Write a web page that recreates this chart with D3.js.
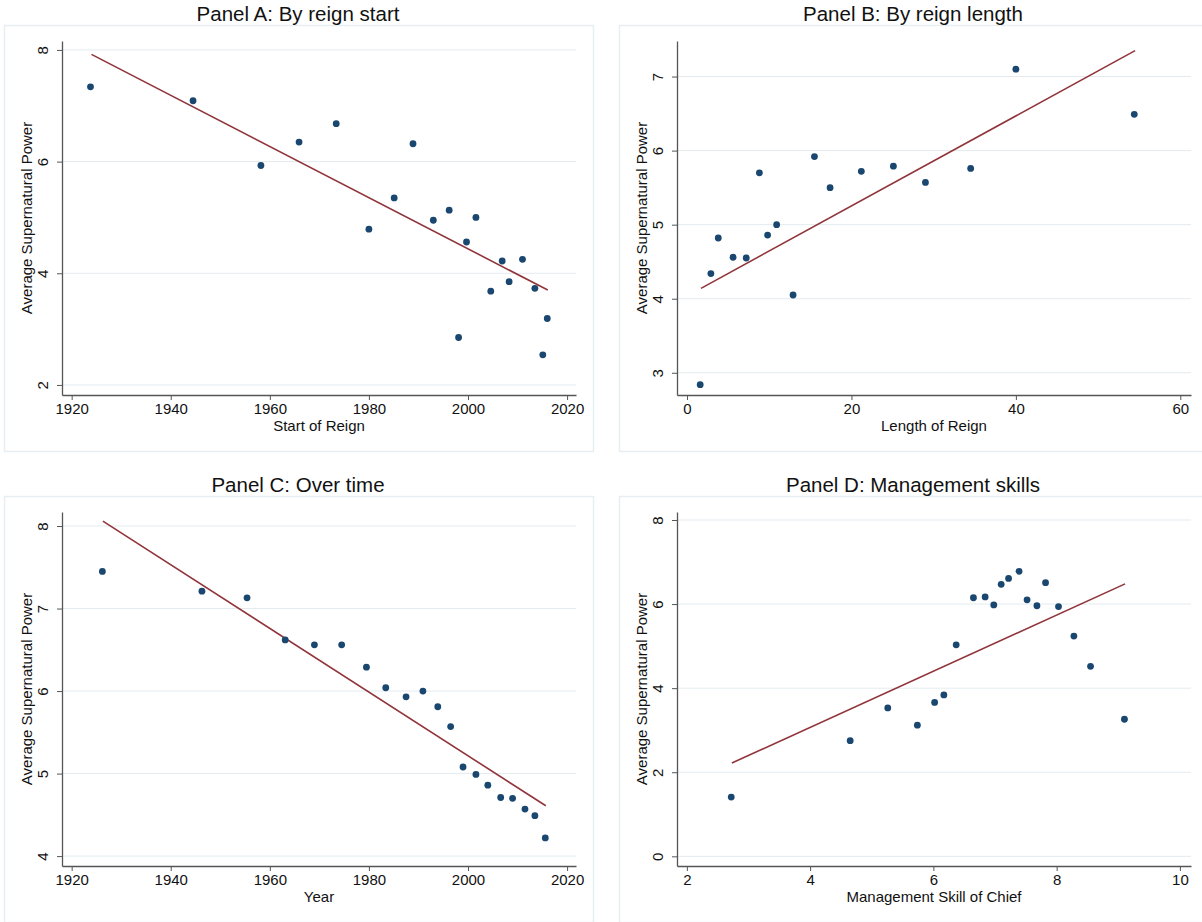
<!DOCTYPE html>
<html>
<head>
<meta charset="utf-8">
<script src="https://cdn.jsdelivr.net/npm/d3@7"></script>
<style>
  body { margin: 0; background: #fff; }
  svg { display: block; font-family: "Liberation Sans", Arial, sans-serif; }
</style>
</head>
<body>
<svg id="chart"></svg>
<script>
// Panel A: start of reign vs average supernatural power
const aStart = [1923.8, 1944.5, 1958.2, 1965.9, 1973.4, 1980.0, 1985.1, 1988.9, 1993.0, 1996.2,
                1998.1, 1999.7, 2001.6, 2004.6, 2006.9, 2008.3, 2011.0, 2013.5, 2015.1, 2016.0];
const aPower = [7.34, 7.09, 5.93, 6.35, 6.68, 4.79, 5.35, 6.32, 4.95, 5.13,
                2.85, 4.56, 5.00, 3.68, 4.22, 3.85, 4.25, 3.73, 2.54, 3.19];
const aFit = [[1924.0, 7.92], [2016.1, 3.70]];

// Panel B: length of reign
const bLength = [1.6, 2.9, 3.8, 5.6, 7.2, 8.8, 9.8, 10.9, 12.9, 15.5, 17.4, 21.2, 25.1, 29.0, 34.5, 40.0, 54.4];
const bPower = [2.84, 4.34, 4.82, 4.56, 4.55, 5.70, 4.86, 5.00, 4.05, 5.92, 5.50, 5.72, 5.79, 5.57, 5.76, 7.10, 6.49];
const bFit = [[1.7, 4.14], [54.5, 7.35]];

// Panel C: over time
const cYear = [1926.2, 1946.3, 1955.4, 1963.1, 1969.0, 1974.5, 1979.5, 1983.4, 1987.5, 1990.9,
               1993.9, 1996.5, 1999.0, 2001.6, 2004.0, 2006.6, 2009.0, 2011.5, 2013.5, 2015.6];
const cPower = [7.45, 7.21, 7.13, 6.62, 6.56, 6.56, 6.29, 6.04, 5.93, 6.00,
                5.81, 5.57, 5.08, 4.99, 4.86, 4.71, 4.70, 4.57, 4.49, 4.22];
const cFit = [[1926.3, 8.06], [2015.7, 4.61]];

// Panel D: management skill
const dSkill = [2.72, 4.65, 5.26, 5.74, 6.02, 6.17, 6.37, 6.65, 6.84, 6.98,
                7.10, 7.22, 7.39, 7.52, 7.68, 7.82, 8.03, 8.28, 8.55, 9.10];
const dPower = [1.41, 2.75, 3.53, 3.12, 3.66, 3.84, 5.03, 6.15, 6.17, 5.98,
                6.47, 6.61, 6.78, 6.10, 5.96, 6.51, 5.94, 5.24, 4.52, 3.26];
const dFit = [[2.73, 2.22], [9.11, 6.48]];

// tick labels
const yearTicks = [1920, 1940, 1960, 1980, 2000, 2020];
const lengthTicks = [0, 20, 40, 60];
const skillTicks = [2, 4, 6, 8, 10];
const aYTicks = [2, 4, 6, 8];
const bYTicks = [3, 4, 5, 6, 7];
const cYTicks = [4, 5, 6, 7, 8];
const dYTicks = [0, 2, 4, 6, 8];

const width = 1202, height = 922;
const yLabel = 'Average Supernatural Power';

const panels = [
  { title: 'Panel A: By reign start', xTitle: 'Start of Reign', xs: aStart, ys: aPower, fit: aFit,
    xTicks: yearTicks, yTicks: aYTicks, xDom: [1918.05, 2021.8], yDom: [1.82, 8.16], ox: 0, oy: 0 },
  { title: 'Panel B: By reign length', xTitle: 'Length of Reign', xs: bLength, ys: bPower, fit: bFit,
    xTicks: lengthTicks, yTicks: bYTicks, xDom: [-1.22, 61.3], yDom: [2.70, 7.48], ox: 615, oy: 0 },
  { title: 'Panel C: Over time', xTitle: 'Year', xs: cYear, ys: cPower, fit: cFit,
    xTicks: yearTicks, yTicks: cYTicks, xDom: [1918.05, 2021.8], yDom: [3.88, 8.17], ox: 0, oy: 471 },
  { title: 'Panel D: Management skills', xTitle: 'Management Skill of Chief', xs: dSkill, ys: dPower, fit: dFit,
    xTicks: skillTicks, yTicks: dYTicks, xDom: [1.84, 10.18], yDom: [-0.23, 8.19], ox: 615, oy: 471 }
];

const plot = { left: 62, right: 576, top: 41, bottom: 395 };
const fmt = d3.format('d');

const svg = d3.select('#chart').attr('width', width).attr('height', height);

panels.forEach(p => {
  const g = svg.append('g').attr('transform', `translate(${p.ox},${p.oy})`);

  // graph region frame
  g.append('rect')
    .attr('x', 4.5).attr('y', 25.5)
    .attr('width', 589).attr('height', 426)
    .attr('fill', '#fff')
    .attr('stroke', '#e6eef2')
    .attr('stroke-width', 1.5);

  g.append('text')
    .attr('x', 298).attr('y', 21)
    .attr('text-anchor', 'middle')
    .attr('font-size', 20.5)
    .attr('fill', '#111')
    .text(p.title);

  const x = d3.scaleLinear().domain(p.xDom).range([plot.left, plot.right]);
  const y = d3.scaleLinear().domain(p.yDom).range([plot.bottom, plot.top]);

  // gridlines
  g.selectAll('.grid')
    .data(p.yTicks)
    .enter()
    .append('line')
    .attr('x1', plot.left).attr('x2', plot.right)
    .attr('y1', d => y(d)).attr('y2', d => y(d))
    .attr('stroke', '#e3ebef')
    .attr('stroke-width', 1);

  // axes
  const xAxis = g.append('g')
    .attr('transform', `translate(0,${plot.bottom})`)
    .call(d3.axisBottom(x).tickValues(p.xTicks).tickFormat(fmt).tickSize(5).tickPadding(3).tickSizeOuter(0));
  xAxis.select('.domain').attr('stroke', '#555').attr('stroke-width', 1.3);
  xAxis.selectAll('.tick line').attr('stroke', '#555');
  xAxis.selectAll('.tick text').attr('font-size', 15).attr('fill', '#111').attr('font-family', null);

  const yAxis = g.append('g')
    .attr('transform', `translate(${plot.left},0)`)
    .call(d3.axisLeft(y).tickValues(p.yTicks).tickFormat(fmt).tickSize(5).tickSizeOuter(0));
  yAxis.select('.domain').attr('stroke', '#555').attr('stroke-width', 1.3);
  yAxis.selectAll('.tick line').attr('stroke', '#555');
  yAxis.selectAll('.tick text')
    .attr('font-size', 15).attr('fill', '#111').attr('font-family', null)
    .attr('x', null).attr('dy', null)
    .attr('text-anchor', 'middle')
    .attr('transform', 'translate(-14,0) rotate(-90)');

  // axis titles
  g.append('text')
    .attr('x', (plot.left + plot.right) / 2).attr('y', 431)
    .attr('text-anchor', 'middle')
    .attr('font-size', 15)
    .attr('fill', '#111')
    .text(p.xTitle);

  g.append('text')
    .attr('transform', `translate(32,${(plot.top + plot.bottom) / 2}) rotate(-90)`)
    .attr('text-anchor', 'middle')
    .attr('font-size', 15)
    .attr('fill', '#111')
    .text(yLabel);

  // fitted line
  g.append('path')
    .datum(p.fit)
    .attr('d', d3.line().x(d => x(d[0])).y(d => y(d[1])))
    .attr('fill', 'none')
    .attr('stroke', '#90353b')
    .attr('stroke-width', 1.6);

  // points
  g.selectAll('.pt')
    .data(p.xs.map((v, i) => [v, p.ys[i]]))
    .enter()
    .append('circle')
    .attr('cx', d => x(d[0]))
    .attr('cy', d => y(d[1]))
    .attr('r', 3.4)
    .attr('fill', '#1a476f');
});
</script>
</body>
</html>
